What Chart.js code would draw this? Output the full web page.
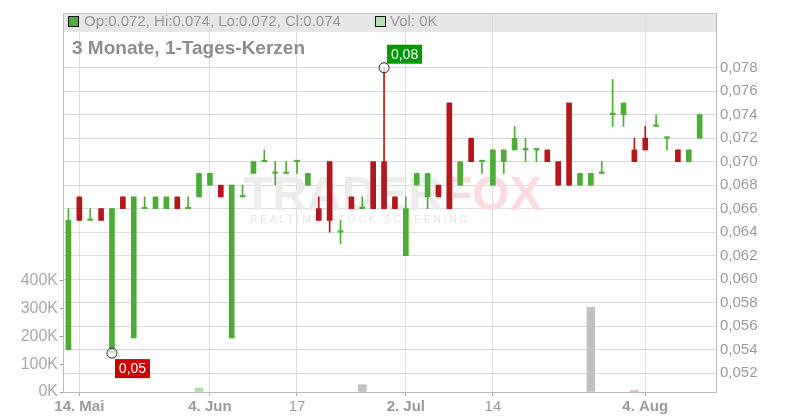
<!DOCTYPE html>
<html>
<head>
<meta charset="utf-8">
<script src="https://cdn.jsdelivr.net/npm/chart.js@4.4.1/dist/chart.umd.min.js"></script>
<style>
  html, body { margin: 0; padding: 0; background: #fff; }
</style>
</head>
<body>
<canvas id="chart" width="800" height="420"></canvas>
<script>
// Kerzen (Tageswerte)
const opens  = [0.054, 0.067, 0.065, 0.066, 0.0537, 0.067, 0.055, 0.066, 0.066, 0.066,
                0.067, 0.066, 0.067, 0.068, 0.068, 0.055, 0.067, 0.069, 0.070, 0.069,
                0.069, 0.070, 0.068, 0.066, 0.070, 0.064, 0.067, 0.066, 0.070, 0.070,
                0.067, 0.062, 0.068, 0.067, 0.068, 0.075, 0.068, 0.072, 0.070, 0.068,
                0.070, 0.071, 0.071, 0.071, 0.071, 0.070, 0.075, 0.068, 0.068, 0.069,
                0.074, 0.074, 0.071, 0.072, 0.073, 0.072, 0.071, 0.070, 0.072];
const highs  = [0.066, 0.067, 0.066, 0.066, 0.066, 0.067, 0.067, 0.067, 0.067, 0.067,
                0.067, 0.067, 0.069, 0.069, 0.068, 0.068, 0.068, 0.070, 0.071, 0.070,
                0.070, 0.070, 0.069, 0.067, 0.070, 0.065, 0.067, 0.067, 0.070, 0.078,
                0.067, 0.067, 0.069, 0.069, 0.068, 0.075, 0.070, 0.072, 0.070, 0.071,
                0.071, 0.073, 0.072, 0.071, 0.071, 0.070, 0.075, 0.069, 0.069, 0.070,
                0.077, 0.075, 0.072, 0.073, 0.074, 0.072, 0.071, 0.071, 0.074];
const lows   = [0.054, 0.065, 0.065, 0.065, 0.0537, 0.066, 0.055, 0.066, 0.066, 0.066,
                0.066, 0.066, 0.067, 0.068, 0.067, 0.055, 0.067, 0.069, 0.070, 0.068,
                0.069, 0.069, 0.068, 0.065, 0.064, 0.063, 0.066, 0.066, 0.066, 0.066,
                0.066, 0.062, 0.068, 0.066, 0.067, 0.066, 0.068, 0.070, 0.069, 0.068,
                0.069, 0.071, 0.070, 0.070, 0.070, 0.068, 0.068, 0.068, 0.068, 0.069,
                0.073, 0.073, 0.070, 0.071, 0.073, 0.071, 0.070, 0.070, 0.072];
const closes = [0.065, 0.065, 0.065, 0.065, 0.066, 0.066, 0.067, 0.066, 0.067, 0.067,
                0.066, 0.066, 0.069, 0.069, 0.067, 0.068, 0.067, 0.070, 0.070, 0.069,
                0.069, 0.070, 0.069, 0.065, 0.065, 0.064, 0.066, 0.066, 0.066, 0.066,
                0.066, 0.066, 0.069, 0.069, 0.067, 0.066, 0.070, 0.070, 0.070, 0.071,
                0.071, 0.072, 0.071, 0.071, 0.070, 0.068, 0.068, 0.069, 0.069, 0.069,
                0.074, 0.075, 0.070, 0.071, 0.073, 0.072, 0.070, 0.071, 0.074];

// Umsatz (nur wenige Tage sichtbar)
const volumes = [];
volumes[12] = 14000;
volumes[27] = 26000;
volumes[48] = 304000;
volumes[52] = 5000;

// Achsen
const slotCount = 60;
const tickIdx  = [1, 13, 21, 31, 39, 53];
const tickText = ['14. Mai', '4. Jun', '17', '2. Jul', '14', '4. Aug'];
const priceTicks = [0.052, 0.054, 0.056, 0.058, 0.060, 0.062, 0.064, 0.066,
                    0.068, 0.070, 0.072, 0.074, 0.076, 0.078];
const volTicks = [0, 100000, 200000, 300000, 400000];

const GREEN = '#4cad36';
const RED   = '#b3161b';
const FONT  = '"Liberation Sans", Arial, sans-serif';

const labels = [];
for (let i = 0; i < slotCount; i++) labels.push('');
tickIdx.forEach(function (idx, k) { labels[idx] = tickText[k]; });

const candleColors = opens.map(function (o, i) { return closes[i] >= o ? GREEN : RED; });

const volColors = volumes.map(function (v, i) {
    if (i === 0) return '#b8e0b0';
    if (closes[i] > closes[i - 1]) return '#b0dca8';
    if (closes[i] < closes[i - 1]) return '#eba8b0';
    return '#c0c0c0';
});

// Hoch-/Tief-Markierungen
const markers = [
    { idx: 29, value: 0.078, text: '0,08', color: '#009a00', above: true },
    { idx: 4, value: 0.0537, text: '0,05', color: '#cc0000', above: false }
];

const framePlugin = {
    id: 'frame',
    beforeDraw: function (chart) {
        const ctx = chart.ctx;
        const a = chart.chartArea;
        ctx.save();
        ctx.fillStyle = '#e6e6e6';
        ctx.fillRect(a.left, a.top, a.right - a.left, 19);
        ctx.restore();
    },
    beforeDatasetsDraw: function (chart) {
        const ctx = chart.ctx;
        ctx.save();
        ctx.font = 'bold 48px ' + FONT;
        ctx.textBaseline = 'alphabetic';
        ctx.fillStyle = '#ececec';
        ctx.fillText('TRADER', 243, 210);
        const w = ctx.measureText('TRADER').width;
        ctx.fillStyle = '#fadce0';
        ctx.fillText('FOX', 243 + w, 210);
        ctx.font = '10px ' + FONT;
        ctx.letterSpacing = '3px';
        ctx.fillStyle = '#e4e4e4';
        ctx.fillText('REALTIME STOCK SCREENING', 250, 223);
        ctx.restore();
    },
    afterDatasetsDraw: function (chart) {
        const ctx = chart.ctx;
        const xs = chart.scales.x;
        const ys = chart.scales.y;
        ctx.save();
        markers.forEach(function (m) {
            const x = xs.getPixelForValue(m.idx);
            const y = ys.getPixelForValue(m.value);
            ctx.beginPath();
            ctx.arc(x, y, 5, 0, Math.PI * 2);
            ctx.fillStyle = 'rgba(255,255,255,0.7)';
            ctx.fill();
            ctx.lineWidth = 1;
            ctx.strokeStyle = '#222';
            ctx.stroke();
            ctx.font = '14px ' + FONT;
            const bw = 35, bh = 19;
            const bx = x + 3;
            const by = m.above ? y - 4 - bh : y + 6;
            ctx.fillStyle = m.color;
            ctx.fillRect(bx, by, bw, bh);
            ctx.fillStyle = '#fff';
            ctx.textAlign = 'center';
            ctx.textBaseline = 'middle';
            ctx.fillText(m.text, bx + bw / 2, by + bh / 2 + 1);
        });
        ctx.restore();
    },
    afterDraw: function (chart) {
        const ctx = chart.ctx;
        const a = chart.chartArea;
        ctx.save();
        // obere Kante
        ctx.strokeStyle = '#c8c8c8';
        ctx.lineWidth = 1;
        ctx.beginPath();
        ctx.moveTo(a.left, a.top + 0.5);
        ctx.lineTo(a.right, a.top + 0.5);
        ctx.stroke();

        // Kopfzeile
        ctx.fillStyle = GREEN;
        ctx.fillRect(68.5, 16.5, 10, 10);
        ctx.strokeStyle = '#111';
        ctx.strokeRect(68.5, 16.5, 10, 10);
        ctx.font = '15px ' + FONT;
        ctx.fillStyle = '#9a9a9a';
        ctx.textBaseline = 'alphabetic';
        ctx.fillText('Op:0.072, Hi:0.074, Lo:0.072, Cl:0.074', 84, 26);
        ctx.fillStyle = '#b4dfb0';
        ctx.fillRect(375.5, 16.5, 10, 10);
        ctx.strokeRect(375.5, 16.5, 10, 10);
        ctx.fillStyle = '#9a9a9a';
        ctx.fillText('Vol: 0K', 390, 26);

        // Titel
        ctx.font = 'bold 19px ' + FONT;
        ctx.fillStyle = '#8c8c8c';
        ctx.fillText('3 Monate, 1-Tages-Kerzen', 72, 54);
        ctx.restore();
    }
};

new Chart(document.getElementById('chart'), {
    type: 'bar',
    data: {
        labels: labels,
        datasets: [
            {
                // Umsatz
                data: volumes.concat([]),
                yAxisID: 'vol',
                backgroundColor: volColors,
                barThickness: 8,
                grouped: false,
                order: 3
            },
            {
                // Dochte
                data: lows.map(function (l, i) { return [l, highs[i]]; }),
                yAxisID: 'y',
                backgroundColor: candleColors,
                barThickness: 1,
                grouped: false,
                order: 2
            },
            {
                // Kerzenkörper
                data: opens.map(function (o, i) { return [o, closes[i]]; }),
                yAxisID: 'y',
                backgroundColor: candleColors,
                barThickness: 5,
                minBarLength: 1.5,
                grouped: false,
                order: 1
            }
        ]
    },
    options: {
        responsive: false,
        animation: false,
        devicePixelRatio: 1,
        layout: { padding: { top: 11, left: 0, right: 0, bottom: 0 } },
        plugins: {
            legend: { display: false },
            tooltip: { enabled: false }
        },
        scales: {
            x: {
                offset: true,
                grid: {
                    offset: false,
                    color: function (c) { return labels[c.index] ? '#dcdcdc' : 'rgba(0,0,0,0)'; },
                    tickColor: function (c) { return labels[c.index] ? '#aaa' : 'rgba(0,0,0,0)'; },
                    tickLength: 4
                },
                border: { color: '#bbb' },
                ticks: {
                    autoSkip: false,
                    maxRotation: 0,
                    padding: 2,
                    color: '#9a9a9a',
                    font: function (c) {
                        const t = labels[c.index] || '';
                        return { size: 15, family: FONT, weight: /[A-Za-z]/.test(t) ? 'bold' : 'normal' };
                    },
                    callback: function (v, i) { return labels[i]; }
                },
                afterFit: function (s) { s.height = 28; }
            },
            y: {
                position: 'right',
                min: 0.05039,
                max: 0.08266,
                afterBuildTicks: function (s) {
                    s.ticks = priceTicks.map(function (v) { return { value: v }; });
                },
                grid: { color: '#dcdcdc', drawTicks: false },
                border: { color: '#bbb' },
                ticks: {
                    padding: 4,
                    color: '#9a9a9a',
                    font: { size: 15, family: FONT },
                    callback: function (v) { return v.toFixed(3).replace('.', ','); }
                },
                afterFit: function (s) { s.width = 84; }
            },
            vol: {
                position: 'left',
                min: 0,
                max: 1360000,
                afterBuildTicks: function (s) {
                    s.ticks = volTicks.map(function (v) { return { value: v }; });
                },
                grid: { drawOnChartArea: false, tickLength: 3, color: '#999' },
                border: { color: '#bbb' },
                ticks: {
                    padding: 2,
                    color: '#a8a8a8',
                    font: { size: 16, family: FONT },
                    callback: function (v) { return (v / 1000) + 'K'; }
                },
                afterFit: function (s) { s.width = 63; }
            }
        }
    },
    plugins: [framePlugin]
});
</script>
</body>
</html>
